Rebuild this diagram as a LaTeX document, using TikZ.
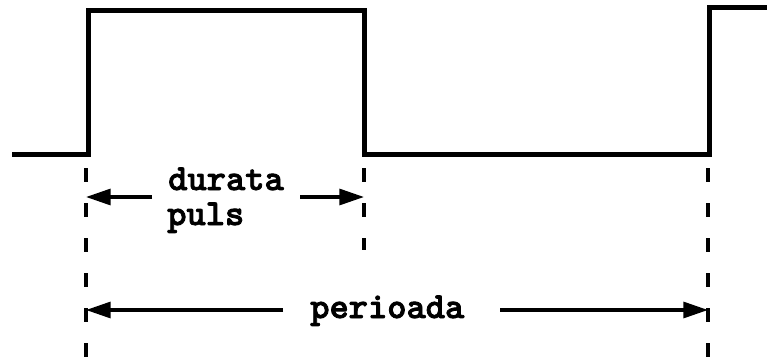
\documentclass[tikz,border=0pt]{standalone}
\usepackage{fontspec}
\newfontfamily\cbfont{lmmonolt10-bold}[Extension=.otf,RawFeature={embolden=2.2}]
\usetikzlibrary{arrows.meta}
\begin{document}
\begin{tikzpicture}[x=0.75pt,y=-0.75pt,
  wave/.style={line width=3.75pt,line join=miter},
  guide/.style={line width=2.4pt,dash pattern=on 10.5pt off 15.75pt},
  arr/.style={line width=2.4pt,-{Triangle[length=18.5pt,width=12pt]}},
  lbl/.style={inner sep=0pt,font=\fontsize{27.5pt}{26pt}\selectfont\cbfont}]
\useasboundingbox (0,0) rectangle (767,360);
% waveform
\draw[wave] (12,154) -- (88,154) -- (88,11) -- (364,11) -- (364,154) -- (709,154) -- (709,8) -- (767,8);
% guides
\coordinate (L) at (86,168); \coordinate (Lb) at (86,360);
\coordinate (M) at (364,168); \coordinate (Mb) at (364,250);
\coordinate (R) at (708,168); \coordinate (Rb) at (708,360);
\draw[guide] (L) -- (Lb);
\draw[guide] (M) -- (Mb);
\draw[guide] (R) -- (Rb);
% labels
\node[lbl,anchor=base west] (dur) at (168,190) {durata};
\node[lbl,anchor=base west] (pul) at (167,225) {puls};
\node[lbl,anchor=base west] (per) at (310,318) {perioada};
% arrows
\coordinate (a1) at (152,197);
\coordinate (a2) at (300,197);
\coordinate (b1) at (283,310);
\coordinate (b2) at (500,310);
\draw[arr] (a1) -- (a1 -| L);
\draw[arr] (a2) -- (a2 -| M);
\draw[arr] (b1) -- (b1 -| L);
\draw[arr] (b2) -- (b2 -| R);
\end{tikzpicture}
\end{document}
